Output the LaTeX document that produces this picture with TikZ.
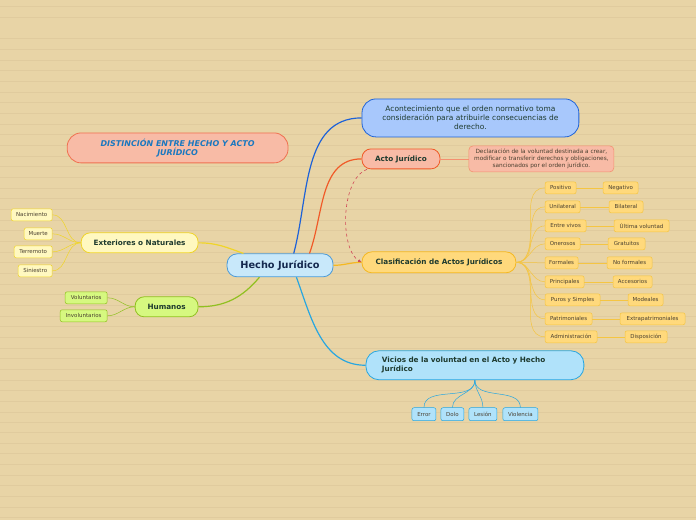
\documentclass[tikz,border=0pt]{standalone}
\usepackage{fontspec}
\setmainfont{DejaVu Sans}
\usetikzlibrary{arrows.meta}

\definecolor{paper}{HTML}{E8D4A6}
\definecolor{paperline}{HTML}{E0CB9E}
\definecolor{darktext}{HTML}{1E3A2E}
\definecolor{leaftext}{HTML}{4A4030}
\definecolor{navytext}{HTML}{14284E}
\definecolor{hechofill}{HTML}{C8E8FA}
\definecolor{hechoedge}{HTML}{4A9AD8}
\definecolor{acontfill}{HTML}{A8C8FC}
\definecolor{acontedge}{HTML}{1E62D8}
\definecolor{actofill}{HTML}{F8BBA6}
\definecolor{actoedge}{HTML}{F05A28}
\definecolor{decledge}{HTML}{F49070}
\definecolor{clasfill}{HTML}{FFD97C}
\definecolor{clasedge}{HTML}{F5B820}
\definecolor{clasline}{HTML}{F5C542}
\definecolor{viciofill}{HTML}{B0E2FA}
\definecolor{vicioedge}{HTML}{28A6E0}
\definecolor{extfill}{HTML}{FFF8C0}
\definecolor{extedge}{HTML}{F0D428}
\definecolor{humfill}{HTML}{D6F880}
\definecolor{humedge}{HTML}{90C020}
\definecolor{distedge}{HTML}{F07050}
\definecolor{disttext}{HTML}{1A78C0}
\definecolor{dashred}{HTML}{D04858}

\begin{document}
\begin{tikzpicture}
    [x=1bp, y=1bp,
    topic/.style={draw, line width=0.8pt, rounded corners=9bp, inner sep=0pt,
        font=\bfseries\fontsize{7.3}{9}\selectfont, text=darktext},
    leaf/.style={draw, line width=0.5pt, rounded corners=2bp, inner xsep=2bp,
        inner ysep=0pt, minimum height=12bp,
        font=\fontsize{5.5}{6}\selectfont, text=leaftext},
    branch/.style={line width=1.2pt},
    twig/.style={line width=0.5pt}]

    % drawing the paper
    \fill[paper] (0,0) rectangle (696,-520);
    \foreach \y in {6,17,38,49,60,70,81,92,102,113,124,134,145,156,166,177,188,198,209,220,230,241,252,262,273,284,294,305,316,326,337,348,358,369,380,390,401,412,422,433,444,454,465,476,486,497,508,518}
        \draw[paperline, line width=0.45pt] (0,-\y) -- (696,-\y);

    % drawing the central topic
    \node[topic, fill=hechofill, draw=hechoedge, text=navytext, rounded corners=10bp,
        font=\bfseries\fontsize{9.8}{11}\selectfont,
        minimum width=106bp, minimum height=23bp] (hecho) at (280,-265.5) {Hecho Jurídico};

    % drawing the main topics
    \node[topic, fill=acontfill, draw=acontedge, rounded corners=14bp, align=center,
        font=\fontsize{7.5}{9}\selectfont, text=darktext,
        minimum width=217bp, minimum height=38bp] (acont) at (470.5,-118)
        {Acontecimiento que el orden normativo toma\\consideración para atribuirle consecuencias de\\derecho.};
    \node[topic, fill=actofill, draw=actoedge,
        minimum width=78bp, minimum height=20bp] (acto) at (401,-159) {Acto Jurídico};
    \node[topic, fill=clasfill, draw=clasedge, rounded corners=10bp,
        minimum width=154bp, minimum height=21bp] (clas) at (439,-262.5)
        {Clasificación de Actos \raisebox{-0.8bp}{Jurídicos}};
    \node[topic, fill=viciofill, draw=vicioedge, rounded corners=13bp, align=left,
        text width=186bp, minimum width=218bp, minimum height=29bp] (vicios) at (475,-365.5)
        {Vicios de la voluntad en el Acto y Hecho\\Jurídico};
    \node[topic, fill=extfill, draw=extedge,
        minimum width=117bp, minimum height=20bp] (ext) at (139.5,-243) {Exteriores o Naturales};
    \node[topic, fill=humfill, draw=humedge,
        minimum width=63bp, minimum height=20bp] (hum) at (166.5,-307) {Humanos};

    % drawing the floating title
    \node[topic, fill=actofill, draw=distedge, text=disttext, rounded corners=14bp, align=center,
        font=\bfseries\itshape\fontsize{8}{9}\selectfont,
        minimum width=221bp, minimum height=30bp] (dist) at (177.5,-148)
        {DISTINCIÓN ENTRE HECHO Y ACTO\\JURÍDICO};

    % drawing the definition of acto
    \node[topic, fill=actofill, draw=decledge, line width=0.6pt, rounded corners=4bp, align=center,
        font=\fontsize{5.8}{7}\selectfont, text=leaftext,
        minimum width=145bp, minimum height=26bp] (decl) at (541.5,-159)
        {Declaración de la voluntad destinada a crear,\\modificar o transferir derechos y obligaciones,\\sancionados por el orden jurídico.};

    % drawing the leaves of exteriores
    \node[leaf, fill=extfill, draw=extedge, minimum width=41bp] (nac) at (31.5,-215) {Nacimiento};
    \node[leaf, fill=extfill, draw=extedge, minimum width=28bp] (mue) at (38,-234) {Muerte};
    \node[leaf, fill=extfill, draw=extedge, minimum width=38bp] (ter) at (33,-252) {Terremoto};
    \node[leaf, fill=extfill, draw=extedge, minimum width=34bp] (sin) at (35,-271) {Siniestro};

    % drawing the leaves of humanos
    \node[leaf, fill=humfill, draw=humedge, minimum width=42bp] (vol) at (86,-298) {Voluntarios};
    \node[leaf, fill=humfill, draw=humedge, minimum width=47bp] (invol) at (83.5,-316) {Involuntarios};

    % drawing the leaves of vicios
    \node[leaf, fill=viciofill, draw=vicioedge, minimum width=24bp, minimum height=13bp] (error) at (424,-414.5) {Error};
    \node[leaf, fill=viciofill, draw=vicioedge, minimum width=23bp, minimum height=13bp] (dolo) at (452.5,-414.5) {Dolo};
    \node[leaf, fill=viciofill, draw=vicioedge, minimum width=28bp, minimum height=13bp] (lesion) at (483,-414.5) {Lesión};
    \node[leaf, fill=viciofill, draw=vicioedge, minimum width=35bp, minimum height=13bp] (viol) at (520.5,-414.5) {Violencia};

    % drawing the leaves of clasificacion
    \node[leaf, fill=clasfill, draw=clasline, anchor=west, minimum width=31bp] (posit) at (545,-188) {Positivo};
    \node[leaf, fill=clasfill, draw=clasline, anchor=west, minimum width=35bp] (unil) at (545,-207) {Unilateral};
    \node[leaf, fill=clasfill, draw=clasline, anchor=west, minimum width=41bp] (vivos) at (545,-226) {Entre vivos};
    \node[leaf, fill=clasfill, draw=clasline, anchor=west, minimum width=35bp] (oner) at (545,-244) {Onerosos};
    \node[leaf, fill=clasfill, draw=clasline, anchor=west, minimum width=33bp] (form) at (545,-263) {Formales};
    \node[leaf, fill=clasfill, draw=clasline, anchor=west, minimum width=39bp] (princ) at (545,-282) {Principales};
    \node[leaf, fill=clasfill, draw=clasline, anchor=west, minimum width=55bp] (puros) at (545,-300) {Puros y Simples};
    \node[leaf, fill=clasfill, draw=clasline, anchor=west, minimum width=47bp] (patr) at (545,-319) {Patrimoniales};
    \node[leaf, fill=clasfill, draw=clasline, anchor=west, minimum width=52bp] (admin) at (545,-337) {Administración};

    \node[leaf, fill=clasfill, draw=clasline, anchor=west, minimum width=35bp] (negat) at (603,-188) {Negativo};
    \node[leaf, fill=clasfill, draw=clasline, anchor=west, minimum width=34bp] (bil) at (609,-207) {Bilateral};
    \node[leaf, fill=clasfill, draw=clasline, anchor=west, minimum width=55bp] (ultima) at (614,-226) {Última voluntad};
    \node[leaf, fill=clasfill, draw=clasline, anchor=west, minimum width=37bp] (grat) at (608,-244) {Gratuitos};
    \node[leaf, fill=clasfill, draw=clasline, anchor=west, minimum width=45bp] (noform) at (607,-263) {No formales};
    \node[leaf, fill=clasfill, draw=clasline, anchor=west, minimum width=39bp] (acces) at (613,-282) {Accesorios};
    \node[leaf, fill=clasfill, draw=clasline, anchor=west, minimum width=35bp] (modal) at (628,-300) {Modeales};
    \node[leaf, fill=clasfill, draw=clasline, anchor=west, minimum width=65bp] (extra) at (620,-319) {Extrapatrimoniales};
    \node[leaf, fill=clasfill, draw=clasline, anchor=west, minimum width=42bp] (disp) at (625,-337) {Disposición};

    % drawing the main branches
    \draw[branch, acontedge] (hecho.41) to[out=75, in=180] (acont.west);
    \draw[branch, actoedge] (hecho.22) to[out=70, in=180] (acto.west);
    \draw[branch, clasedge] (hecho.east) to[out=0, in=180] (clas.west);
    \draw[branch, vicioedge] (hecho.-36) to[out=-70, in=180] (vicios.west);
    \draw[branch, extedge] (ext.east) to[out=0, in=160] (hecho.162);
    \draw[branch, humedge] (hum.east) to[out=0, in=230] (hecho.210);

    % drawing the relation between acto and clasificacion
    \draw[dashed, dashred, line width=0.6pt, -{Latex[length=3.5bp, width=3bp]}]
        (acto.197) .. controls (340,-180) and (340,-250) .. (clas.west);

    % drawing the twigs
    \draw[twig, decledge] (acto.east) -- (decl.west);

    \draw[twig, extedge] (ext.west) to[out=180, in=0] (nac.east);
    \draw[twig, extedge] (ext.west) to[out=180, in=0] (mue.east);
    \draw[twig, extedge] (ext.west) to[out=180, in=0] (ter.east);
    \draw[twig, extedge] (ext.west) to[out=180, in=0] (sin.east);

    \draw[twig, humedge] (hum.west) to[out=180, in=0] (vol.east);
    \draw[twig, humedge] (hum.west) to[out=180, in=0] (invol.east);

    \draw[twig, vicioedge] (vicios.south) to[out=-90, in=90] (error.north);
    \draw[twig, vicioedge] (vicios.south) to[out=-90, in=90] (dolo.north);
    \draw[twig, vicioedge] (vicios.south) to[out=-90, in=90] (lesion.north);
    \draw[twig, vicioedge] (vicios.south) to[out=-90, in=90] (viol.north);

    \draw[twig, clasline] (clas.east) to[out=0, in=180] (posit.west);
    \draw[twig, clasline] (clas.east) to[out=0, in=180] (unil.west);
    \draw[twig, clasline] (clas.east) to[out=0, in=180] (vivos.west);
    \draw[twig, clasline] (clas.east) to[out=0, in=180] (oner.west);
    \draw[twig, clasline] (clas.east) to[out=0, in=180] (form.west);
    \draw[twig, clasline] (clas.east) to[out=0, in=180] (princ.west);
    \draw[twig, clasline] (clas.east) to[out=0, in=180] (puros.west);
    \draw[twig, clasline] (clas.east) to[out=0, in=180] (patr.west);
    \draw[twig, clasline] (clas.east) to[out=0, in=180] (admin.west);

    \draw[twig, clasline] (posit.east) -- (negat.west);
    \draw[twig, clasline] (unil.east) -- (bil.west);
    \draw[twig, clasline] (vivos.east) -- (ultima.west);
    \draw[twig, clasline] (oner.east) -- (grat.west);
    \draw[twig, clasline] (form.east) -- (noform.west);
    \draw[twig, clasline] (princ.east) -- (acces.west);
    \draw[twig, clasline] (puros.east) -- (modal.west);
    \draw[twig, clasline] (patr.east) -- (extra.west);
    \draw[twig, clasline] (admin.east) -- (disp.west);

\end{tikzpicture}
\end{document}
